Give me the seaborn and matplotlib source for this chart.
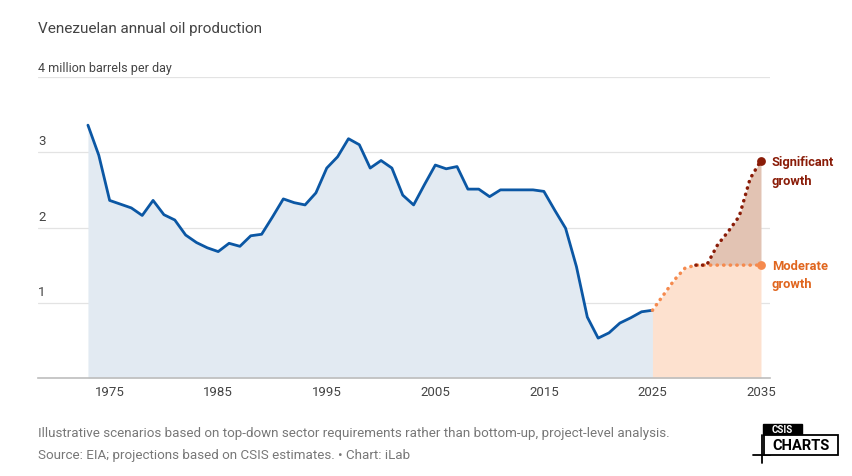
import pandas as pd
import matplotlib
matplotlib.use("Agg")
import matplotlib.pyplot as plt
import matplotlib.patches as patches
import seaborn as sns

sns.set_style("white")
plt.rcParams['font.family'] = ['Roboto', 'DejaVu Sans']

# historical production, million barrels per day
hist_years = list(range(1973, 2026))
hist_vals = [3.36, 2.96, 2.36, 2.31, 2.26, 2.16, 2.36, 2.17, 2.10, 1.90,
             1.80, 1.73, 1.68, 1.79, 1.75, 1.89, 1.91, 2.14, 2.38, 2.33,
             2.30, 2.46, 2.79, 2.94, 3.18, 3.10, 2.79, 2.89, 2.79, 2.43,
             2.30, 2.57, 2.83, 2.78, 2.81, 2.51, 2.51, 2.41, 2.50, 2.50,
             2.50, 2.50, 2.48, 2.23, 1.99, 1.48, 0.81, 0.53, 0.60, 0.73,
             0.80, 0.88, 0.90]

# projections
proj_years = list(range(2025, 2036))
moderate = [0.90, 1.10, 1.30, 1.46, 1.50, 1.50, 1.50, 1.50, 1.50, 1.50, 1.50]
significant = [0.90, 1.10, 1.30, 1.46, 1.50, 1.50, 1.77, 1.95, 2.15, 2.65, 2.89]

x_ticks = [1975, 1985, 1995, 2005, 2015, 2025, 2035]
y_ticks = [1, 2, 3]

hist_df = pd.DataFrame({"Year": hist_years, "Production": hist_vals})
proj_df = pd.DataFrame({"Year": proj_years, "Moderate": moderate,
                        "Significant": significant})
sig_df = proj_df[proj_df["Year"] >= 2029]

blue = "#0b57a4"
blue_fill = "#e2eaf2"
orange = "#f58a4e"
orange_txt = "#e0661f"
orange_fill = "#fde1cf"
red = "#8a1c08"
red_fill = "#e2c3b3"
grid_c = "#e3e3e3"

fig = plt.figure(figsize=(8.52, 4.76), dpi=100)
fig.patch.set_facecolor("white")
ax = fig.add_axes([38 / 852, 1 - 378 / 476, 732 / 852, 301 / 476])

# fills
ax.fill_between(hist_df["Year"], 0, hist_df["Production"], color=blue_fill, lw=0, zorder=1)
ax.fill_between(proj_df["Year"], 0, proj_df["Moderate"], color=orange_fill, lw=0, zorder=1)
ax.fill_between(proj_df["Year"], proj_df["Moderate"], proj_df["Significant"],
                color=red_fill, lw=0, zorder=1)

for yv in [1, 2, 3, 4]:
    ax.axhline(yv, color=grid_c, lw=0.9, zorder=0.5)

sns.lineplot(data=hist_df, x="Year", y="Production", ax=ax, color=blue,
             lw=2, zorder=4)
sns.lineplot(data=proj_df, x="Year", y="Moderate", ax=ax, color=orange,
             lw=2.5, zorder=4, linestyle=(0, (0.1, 1.8)),
             dash_capstyle="round")
sns.lineplot(data=sig_df, x="Year", y="Significant", ax=ax, color=red,
             lw=2.5, zorder=5, linestyle=(0, (0.1, 1.8)),
             dash_capstyle="round")
ax.scatter([proj_years[-1]], [moderate[-1]], s=40, color=orange, zorder=6, lw=0)
ax.scatter([proj_years[-1]], [significant[-1]], s=40, color=red, zorder=6, lw=0)

ax.set_xlim(1968.4, 2035.83)
ax.set_ylim(0, 4)
ax.set_xlabel("")
ax.set_ylabel("")
ax.set_yticks([])
ax.set_xticks(x_ticks)
ax.set_xticklabels([str(t) for t in x_ticks], fontsize=9.5, color="#444")
ax.tick_params(axis="x", length=0, pad=6)
for s in ["top", "right", "left"]:
    ax.spines[s].set_visible(False)
ax.spines["bottom"].set_color("#bdbdbd")
ax.spines["bottom"].set_linewidth(1.2)
ax.set_facecolor("none")

tr = ax.get_yaxis_transform()
for yv in y_ticks:
    ax.text(0, yv + 0.05, str(yv), transform=tr, fontsize=9.5, color="#444",
            ha="left", va="bottom")
ax.text(0, 4.03, "4 million barrels per day", transform=tr, fontsize=9,
        color="#444", ha="left", va="bottom")

ax.text(2036.0, significant[-1] + 0.06, "Significant\ngrowth", fontsize=9.3, color=red,
        fontweight="bold", ha="left", va="top", linespacing=1.55, clip_on=False)
ax.text(2036.0, moderate[-1] + 0.07, "Moderate\ngrowth", fontsize=9.3, color=orange_txt,
        fontweight="bold", ha="left", va="top", linespacing=1.55, clip_on=False)

fig.text(38 / 852, 1 - 29 / 476, "Venezuelan annual oil production",
         fontsize=11, color="#444", ha="left", va="center")

foot = ['Liberation Sans Narrow', 'Roboto', 'DejaVu Sans']
fig.text(38 / 852, 1 - 433 / 476,
         "Illustrative scenarios based on top-down sector requirements rather than bottom-up, project-level analysis.",
         fontsize=9.6, color="#777", ha="left", va="center", family=foot)
fig.text(38 / 852, 1 - 455 / 476,
         "Source: EIA; projections based on CSIS estimates. \u2022 Chart: iLab",
         fontsize=9.6, color="#777", ha="left", va="center", family=foot)

# logo
def fx(px):
    return px / 852

def fy(py):
    return 1 - py / 476

fig.patches.append(patches.Rectangle((fx(763), fy(435)), fx(802) - fx(763), fy(424) - fy(435),
                                     transform=fig.transFigure, color="black", zorder=5))
fig.patches.append(patches.Rectangle((fx(764), fy(455)), fx(838) - fx(764), fy(435) - fy(455),
                                     transform=fig.transFigure, facecolor="white",
                                     edgecolor="black", lw=1.3, zorder=5))
fig.lines.append(plt.Line2D([fx(753), fx(770)], [fy(455), fy(455)], transform=fig.transFigure,
                            color="black", lw=1.3))
fig.lines.append(plt.Line2D([fx(762), fx(762)], [fy(435), fy(463)], transform=fig.transFigure,
                            color="black", lw=1.3))
fig.text(fx(782.5), fy(429.8), "CSIS", fontsize=7, color="white", fontweight="bold",
         ha="center", va="center", family=foot, zorder=6)
fig.text(fx(801), fy(445.5), "CHARTS", fontsize=10.5, color="black", fontweight="bold",
         ha="center", va="center", family=foot, zorder=6)

fig.savefig("out.png", dpi=100, facecolor="white")
